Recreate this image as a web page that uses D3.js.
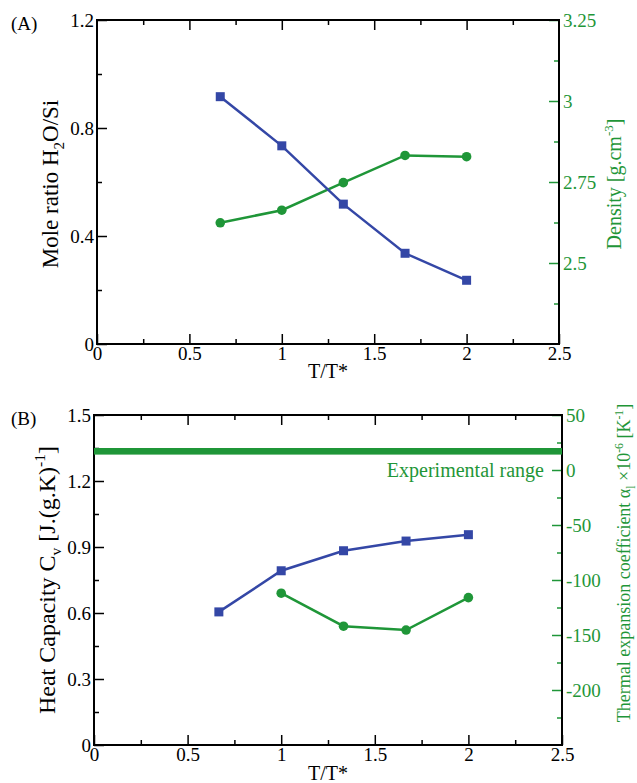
<!DOCTYPE html>
<html lang="en">
<head>
    <meta charset="UTF-8">
    <script src="https://d3js.org/d3.v7.min.js"></script>
    <style>
        body { margin: 0; background: #fff; }
    </style>
</head>
<body>
<div id="chart"></div>
<script>
    // T/T* values
    const tempRatio = [0.667, 1, 1.333, 1.667, 2];
    // panel A
    const moleRatio = [0.916, 0.734, 0.518, 0.336, 0.236];
    const density = [2.624, 2.663, 2.748, 2.832, 2.828];
    // panel B
    const heatCap = [0.605, 0.792, 0.883, 0.927, 0.956];
    const expTemp = [1, 1.333, 1.667, 2];
    const thermExp = [-112, -142, -145.5, -116];
    const expRange = [14, 20];

    const blue = "#3447a6", green = "#1f9638";
    const serif = "'Liberation Serif', 'DejaVu Serif', serif";

    const svg = d3.select("#chart").append("svg")
        .attr("width", 637).attr("height", 783)
        .attr("font-family", serif);

    function panel(o) {
        const x = d3.scaleLinear().domain([0, 2.5]).range([o.left, o.right]);
        const yL = d3.scaleLinear().domain(o.leftDomain).range([o.bottom, o.top]);
        const yR = d3.scaleLinear().domain(o.rightDomain).range([o.bottom, o.top]);
        const g = svg.append("g");

        // minor ticks
        const minor = (axis, vals, col, tr) => {
            const a = g.append("g").attr("transform", tr)
                .call(axis.tickValues(vals).tickSize(-5).tickSizeOuter(0).tickFormat(""));
            a.select(".domain").remove();
            a.selectAll("line").attr("stroke", col).attr("stroke-width", 1.5);
        };
        const xMinor = [0.25, 0.75, 1.25, 1.75, 2.25];
        minor(d3.axisBottom(x), xMinor, "#000", `translate(0,${o.bottom})`);
        minor(d3.axisTop(x), xMinor, "#000", `translate(0,${o.top})`);
        minor(d3.axisLeft(yL), o.leftMinor, "#000", `translate(${o.left},0)`);
        minor(d3.axisRight(yR), o.rightMinor, green, `translate(${o.right},0)`);

        const fmt = d => String(d);
        // major ticks
        const xb = g.append("g").attr("transform", `translate(0,${o.bottom})`)
            .call(d3.axisBottom(x).tickValues([0, 0.5, 1, 1.5, 2, 2.5]).tickSize(-10).tickSizeOuter(0)
                .tickPadding(2).tickFormat(fmt));
        const xt = g.append("g").attr("transform", `translate(0,${o.top})`)
            .call(d3.axisTop(x).tickValues([0.5, 1, 1.5, 2]).tickSize(-10).tickSizeOuter(0).tickFormat(""));
        const yl = g.append("g").attr("transform", `translate(${o.left},0)`)
            .call(d3.axisLeft(yL).tickValues(o.leftTicks).tickSize(-10).tickSizeOuter(0)
                .tickPadding(3).tickFormat(fmt));
        const yr = g.append("g").attr("transform", `translate(${o.right},0)`)
            .call(d3.axisRight(yR).tickValues(o.rightTicks).tickSize(-10).tickSizeOuter(0)
                .tickPadding(4).tickFormat(fmt));
        [xb, xt, yl, yr].forEach(a => {
            a.select(".domain").remove();
            a.attr("font-family", serif).attr("font-size", 19);
            a.selectAll("line").attr("stroke-width", 1.5);
            a.selectAll("text").attr("fill", "#000");
        });
        yr.selectAll("line").attr("stroke", green);
        yr.selectAll("text").attr("fill", green);

        // frame
        g.append("rect")
            .attr("x", o.left).attr("y", o.top)
            .attr("width", o.right - o.left).attr("height", o.bottom - o.top)
            .attr("fill", "none").attr("stroke", "#000").attr("stroke-width", 2);

        return {g, x, yL, yR};
    }

    function series(p, xs, ys, y, col, shape) {
        const pts = xs.map((d, i) => [p.x(d), y(ys[i])]);
        p.g.append("path").attr("d", d3.line()(pts))
            .attr("fill", "none").attr("stroke", col).attr("stroke-width", 2.5);
        if (shape === "square") {
            p.g.selectAll(null).data(pts).enter().append("rect")
                .attr("x", d => d[0] - 4.5).attr("y", d => d[1] - 4.5)
                .attr("width", 9).attr("height", 9).attr("fill", col);
        } else {
            p.g.selectAll(null).data(pts).enter().append("circle")
                .attr("cx", d => d[0]).attr("cy", d => d[1]).attr("r", 4.8).attr("fill", col);
        }
    }

    function rotLabel(x, y, col, size, parts) {
        const t = svg.append("text")
            .attr("transform", `translate(${x},${y}) rotate(-90)`)
            .attr("text-anchor", "middle").attr("fill", col).attr("font-size", size);
        let shift = 0;
        parts.forEach(p => {
            const s = t.append("tspan").text(p.t);
            const target = p.sub ? size * 0.25 : p.sup ? -size * 0.4 : 0;
            if (target !== shift) { s.attr("dy", target - shift); shift = target; }
            if (p.sub || p.sup) s.attr("font-size", size * 0.65);
        });
    }

    // ---- panel A ----
    const A = panel({
        left: 97, right: 559, top: 20, bottom: 344,
        leftDomain: [0, 1.2], leftTicks: [0, 0.4, 0.8, 1.2], leftMinor: [0.2, 0.6, 1.0],
        rightDomain: [2.25, 3.25], rightTicks: [2.5, 2.75, 3, 3.25], rightMinor: [2.375, 2.625, 2.875, 3.125]
    });
    series(A, tempRatio, density, A.yR, green, "circle");
    series(A, tempRatio, moleRatio, A.yL, blue, "square");

    svg.append("text").attr("x", 11).attr("y", 30).attr("font-size", 19).text("(A)");
    svg.append("text").attr("x", 328).attr("y", 378).attr("text-anchor", "middle")
        .attr("font-size", 20).text("T/T*");
    rotLabel(58, 184, "#000", 23, [{t: "Mole ratio H"}, {t: "2", sub: true}, {t: "O/Si"}]);
    rotLabel(621, 184, green, 20, [{t: "Density [g.cm"}, {t: "-3", sup: true}, {t: "]"}]);

    // ---- panel B ----
    const B = panel({
        left: 94, right: 562, top: 415, bottom: 745,
        leftDomain: [0, 1.5], leftTicks: [0, 0.3, 0.6, 0.9, 1.2, 1.5], leftMinor: [0.15, 0.45, 0.75, 1.05, 1.35],
        rightDomain: [-250, 50], rightTicks: [-200, -150, -100, -50, 0, 50], rightMinor: [-225, -175, -125, -75, -25, 25]
    });
    B.g.append("rect")
        .attr("x", B.x(0)).attr("width", B.x(2.5) - B.x(0))
        .attr("y", B.yR(expRange[1])).attr("height", B.yR(expRange[0]) - B.yR(expRange[1]))
        .attr("fill", green);
    B.g.append("text").attr("x", 544).attr("y", 477).attr("text-anchor", "end")
        .attr("fill", green).attr("font-size", 20).text("Experimental range");
    series(B, tempRatio, heatCap, B.yL, blue, "square");
    series(B, expTemp, thermExp, B.yR, green, "circle");

    svg.append("text").attr("x", 11).attr("y", 425).attr("font-size", 19).text("(B)");
    svg.append("text").attr("x", 328).attr("y", 780).attr("text-anchor", "middle")
        .attr("font-size", 20).text("T/T*");
    rotLabel(55, 580, "#000", 24, [{t: "Heat Capacity C"}, {t: "v", sub: true}, {t: " [J.(g.K)"}, {t: "-1", sup: true}, {t: "]"}]);
    rotLabel(630, 563, green, 18, [{t: "Thermal expansion coefficient α"}, {t: "l", sub: true}, {t: " ×10"}, {t: "-6", sup: true}, {t: " [K"}, {t: "-1", sup: true}, {t: "]"}]);
</script>
</body>
</html>
